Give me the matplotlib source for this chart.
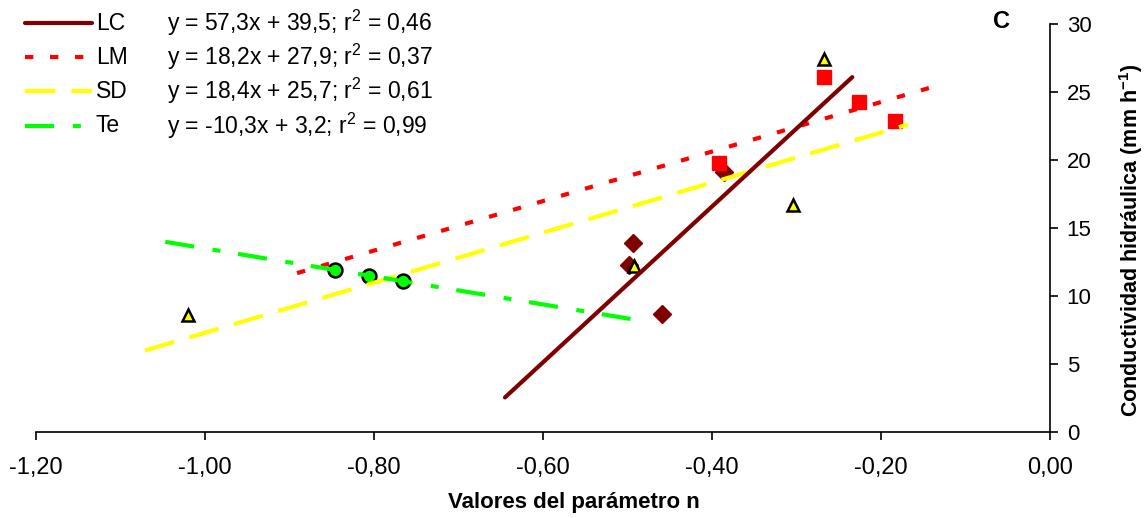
import numpy as np
import matplotlib.pyplot as plt
from matplotlib.lines import Line2D
from matplotlib.ticker import FuncFormatter

plt.rcParams['font.family'] = ['Liberation Sans', 'DejaVu Sans']
plt.rcParams['mathtext.fontset'] = 'custom'
plt.rcParams['mathtext.rm'] = 'Liberation Sans'
plt.rcParams['mathtext.bf'] = 'Liberation Sans:bold'

series = ['LC', 'LM', 'SD', 'Te']

# parameter n vs hydraulic conductivity (mm/h)
lc_n = [-0.494, -0.498, -0.459, -0.386]
lc_k = [13.9, 12.3, 8.7, 19.1]
lm_n = [-0.392, -0.267, -0.226, -0.183]
lm_k = [19.8, 26.1, 24.3, 22.9]
sd_n = [-1.020, -0.492, -0.304, -0.267]
sd_k = [8.6, 12.2, 16.7, 27.4]
te_n = [-0.846, -0.806, -0.766]
te_k = [11.9, 11.5, 11.1]

# linear fits and the n range each trend line covers
slopes = [57.3, 18.2, 18.4, -10.3]
intercepts = [39.5, 27.9, 25.7, 3.2]
r2 = [0.46, 0.37, 0.61, 0.99]
trend_from = [-0.645, -0.891, -1.071, -1.047]
trend_to = [-0.234, -0.133, -0.168, -0.479]

xticks = [-1.2, -1.0, -0.8, -0.6, -0.4, -0.2, 0.0]
yticks = [0, 5, 10, 15, 20, 25, 30]

colors = ['#800000', '#FF0000', '#FFFF00', '#00FF00']
dashes = [None, (2, 4), (7.3, 3.8), (7, 4.5, 1.9, 4.3)]
zlines = [5, 4, 4, 4]
LW = 3.0

fig = plt.figure(figsize=(11.47, 5.18), dpi=100)
ax = fig.add_axes([36 / 1147, 1 - 432 / 518, (1050 - 36) / 1147, (432 - 24) / 518])

ax.plot(lc_n, lc_k, 'D', color=colors[0], mec=colors[0], ms=9.5, zorder=2, clip_on=False)
ax.plot(lm_n, lm_k, 's', color=colors[1], mec=colors[1], ms=10, zorder=2, clip_on=False)
ax.plot(sd_n, sd_k, '^', color=colors[2], mec='black', mew=1.8, ms=9, zorder=3, clip_on=False)
ax.plot(te_n, te_k, 'o', color=colors[3], mec='black', mew=1.8, ms=10, zorder=2, clip_on=False)

for i in range(4):
    xs = np.array([trend_from[i], trend_to[i]])
    ys = slopes[i] * xs + intercepts[i]
    ln, = ax.plot(xs, ys, color=colors[i], lw=LW, zorder=zlines[i],
                  solid_capstyle='round' if i == 0 else 'butt', dash_capstyle='butt')
    if dashes[i] is not None:
        ln.set_dashes(dashes[i])

ax.set_xlim(-1.2, 0)
ax.set_ylim(0, 30)
ax.set_xticks(xticks)
ax.set_yticks(yticks)
ax.xaxis.set_major_formatter(FuncFormatter(lambda v, p: f'{v:.2f}'.replace('.', ',')))
ax.yaxis.tick_right()
ax.yaxis.set_label_position('right')
for s in ['top', 'left']:
    ax.spines[s].set_visible(False)
ax.spines['bottom'].set_linewidth(1.2)
ax.spines['right'].set_linewidth(1.2)
ax.tick_params(axis='x', direction='out', length=6, width=1.2, pad=12, labelsize=17)
ax.tick_params(axis='y', direction='out', length=6, width=1.2, pad=6, labelsize=16)

ax.set_xlabel('Valores del parámetro n', fontsize=16, fontweight='bold', va='center')
ax.xaxis.set_label_coords(0.530, -0.174)
ax.set_ylabel(r'Conductividad hidráulica (mm h$^{\mathregular{-1}}$)', fontsize=15.5,
              fontweight='bold', va='center')
ax.yaxis.set_label_coords(1.080, 0.47)

fig.text(1001 / 1147, 1 - 22 / 518, 'C', fontsize=17, fontweight='bold',
         ha='center', va='center')

# legend with fitted equations
rows_y = [23, 57, 91, 126]
for i, name in enumerate(series):
    yy = 1 - rows_y[i] / 518
    l = Line2D([25 / 1147, 92 / 1147], [yy, yy], transform=fig.transFigure,
               color=colors[i], lw=LW, solid_capstyle='round' if i == 0 else 'butt')
    if dashes[i] is not None:
        l.set_dashes(dashes[i])
    fig.add_artist(l)
    fig.text(96 / 1147, yy, name, fontsize=16.5, ha='left', va='center')
    eq = f'y = {slopes[i]:.1f}x + {intercepts[i]:.1f}; r$^2$ = {r2[i]:.2f}'.replace('.', ',')
    fig.text(167 / 1147, yy, eq, fontsize=16.5, ha='left', va='center')

fig.savefig('out.png', dpi=100)
